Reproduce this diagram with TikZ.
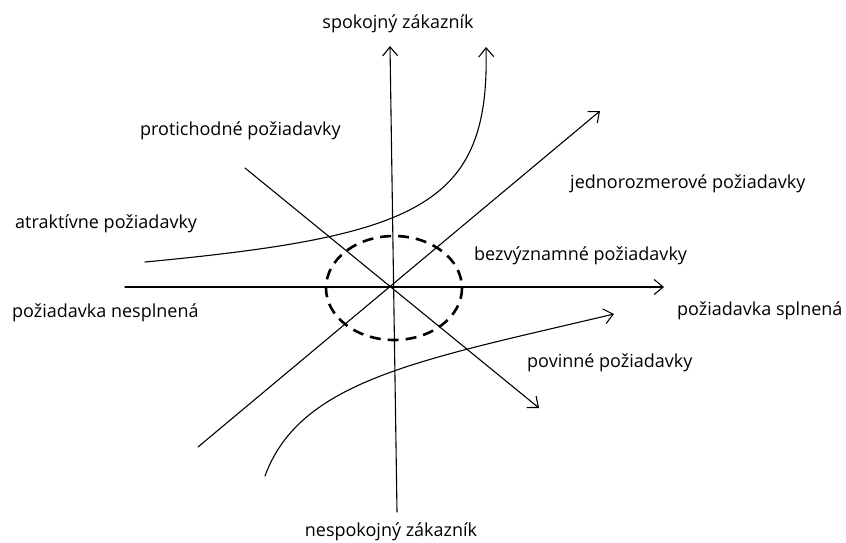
\documentclass[tikz,border=0pt]{standalone}
\usepackage{fontspec}
\setmainfont{Open Sans}
\usetikzlibrary{arrows.meta, calc, positioning}

\begin{document}
\begin{tikzpicture}[x=1pt, y=-1pt, line cap=round, line join=round,
	>={Straight Barb[length=9pt,width=15pt]},
	axis/.style={line width=1.1pt},
	label/.style={font=\fontsize{18}{21}\selectfont, inner sep=0pt, anchor=west}]
				\useasboundingbox (0,0) rectangle (846,543);
				% osi
				\coordinate (O) at (392,287);
				\coordinate (xl) at (125,287);
				\coordinate (xr) at (664,287);
				\coordinate (yb) at (397,512);
				\coordinate (yt) at (390,46);
				\draw[axis, ->] (xl)--(xr);
				\draw[axis, ->] (yb)--(yt);
				% priamky
				\coordinate (j1) at (198,447);
				\coordinate (j2) at (600,111);
				\coordinate (p1) at (245,168);
				\coordinate (p2) at (539,408);
				\draw[axis, ->] (j1)--(j2);
				\draw[axis, ->] (p1)--(p2);
				% krivky
				\coordinate (a1) at (145,262);
				\coordinate (a2) at (486,47);
				\coordinate (m1) at (265,476);
				\coordinate (m2) at (614,314);
				\draw[axis, ->] (a1) .. controls (420,236) and (490,205) .. (a2);
				\draw[axis, ->] (m1) .. controls (300,380) and (420,360) .. (m2);
				% bezvyznamne
				\draw[line width=2.6pt, dash pattern=on 11pt off 7pt, line cap=butt] (394,288) ellipse (68 and 52);
				% popisy
				\node[label, anchor=center] (spokojny) at (398,24) {spokojný zákazník};
				\node[label, anchor=center] (nespokojny) at (391,532) {nespokojný zákazník};
				\node[label] (protichodne) at (140,131) {protichodné požiadavky};
				\node[label] (atraktivne) at (15,224) {atraktívne požiadavky};
				\node[label] (nesplnena) at (12,313) {požiadavka nesplnená};
				\node[label] (jednorozmerove) at (570,184) {jednorozmerové požiadavky};
				\node[label] (bezvyznamne) at (474,256) {bezvýznamné požiadavky};
				\node[label] (splnena) at (677,311) {požiadavka splnená};
				\node[label] (povinne) at (527,363) {povinné požiadavky};
			\end{tikzpicture}
\end{document}
